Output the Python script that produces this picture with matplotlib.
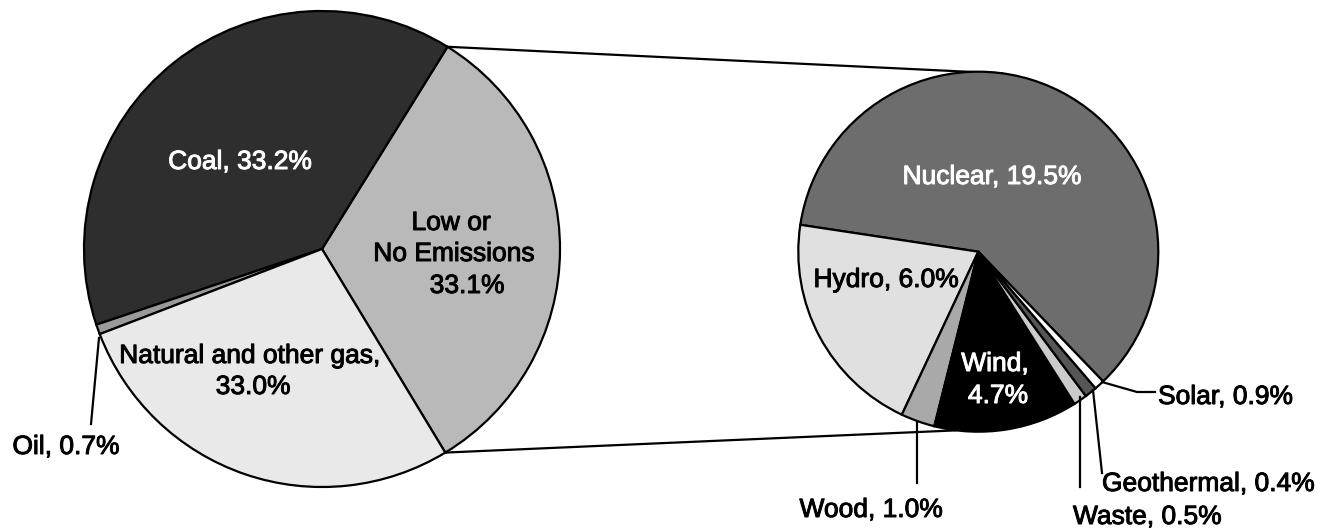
import numpy as np
import matplotlib
matplotlib.use("Agg")
import matplotlib.pyplot as plt
import matplotlib.patheffects as pe

plt.rcParams['font.family'] = ['Liberation Sans', 'DejaVu Sans']

# ---------------- data ----------------
# Left pie (counter-clockwise order, starting at the lower-right edge)
left_names = ["Low or No Emissions", "Coal", "Oil", "Natural and other gas"]
left_label_pct = [33.1, 33.2, 0.7, 33.0]          # values printed on the chart
left_slice = [32.5, 39.0, 0.67, 27.85]            # slice sizes as drawn
left_colors = ["#b9b9b9", "#2e2e2e", "#9a9a9a", "#e9e9e9"]

# Right pie: breakdown of "Low or No Emissions"
right_names = ["Nuclear", "Hydro", "Wood", "Wind", "Waste", "Geothermal", "Solar"]
right_label_pct = [19.5, 6.0, 1.0, 4.7, 0.5, 0.4, 0.9]
right_slice = [60.4, 20.4, 3.05, 12.9, 1.22, 1.1, 0.9]
right_colors = ["#6d6d6d", "#e0e0e0", "#a9a9a9", "#000000", "#cbcbcb", "#565656", "#ffffff"]

W, H = 1321, 532
def Y(y):
    return H - y

fig = plt.figure(figsize=(W / 100, H / 100), dpi=100)
ax = fig.add_axes([0, 0, 1, 1])

L_c = (322, Y(249)); L_r = 238
R_c = (978.3, Y(251.7)); R_r = 180
L_start = -58.8
R_start = -46.1

wp = dict(edgecolor="black", linewidth=1.6)
ax.pie(left_slice, colors=left_colors, startangle=L_start, counterclock=True,
       center=L_c, radius=L_r, wedgeprops=wp, frame=True)
ax.pie(right_slice, colors=right_colors, startangle=R_start, counterclock=True,
       center=R_c, radius=R_r, wedgeprops=wp, frame=True)

ax.set_xlim(0, W)
ax.set_ylim(0, H)
ax.set_aspect("equal")
ax.axis("off")

# connector lines from the "Low or No Emissions" slice to the second pie
a_top = np.deg2rad(L_start + 360 * left_slice[0] / sum(left_slice))
a_bot = np.deg2rad(L_start)
rt, rb = np.deg2rad(82), np.deg2rad(-97)
ax.plot([L_c[0] + L_r * np.cos(a_top), R_c[0] + R_r * np.cos(rt)],
        [L_c[1] + L_r * np.sin(a_top), R_c[1] + R_r * np.sin(rt)],
        color="black", lw=1.6, solid_capstyle="butt", zorder=0.5)
ax.plot([L_c[0] + L_r * np.cos(a_bot), R_c[0] + R_r * np.cos(rb)],
        [L_c[1] + L_r * np.sin(a_bot), R_c[1] + R_r * np.sin(rb)],
        color="black", lw=1.6, solid_capstyle="butt", zorder=0.5)

fs = 19
def txt(x, y, s, color="black", ha="center"):
    ax.text(x, Y(y), s, fontsize=fs, color=color, ha=ha, va="baseline",
            path_effects=[pe.Stroke(linewidth=0.7, foreground=color), pe.Normal()])

def lbl(names, pcts, i):
    return f"{names[i]}, {pcts[i]:.1f}%"

# left pie labels
txt(240, 169, lbl(left_names, left_label_pct, 1), color="white")
txt(451, 230, "Low or")
txt(454, 261, "No Emissions")
txt(467, 293, f"{left_label_pct[0]:.1f}%")
txt(250, 363, left_names[3] + ",")
txt(253, 394, f"{left_label_pct[3]:.1f}%")
txt(66, 454, lbl(left_names, left_label_pct, 2))
ax.plot([99, 91], [Y(338), Y(424)], color="black", lw=1.6)

# right pie labels
txt(992, 184, lbl(right_names, right_label_pct, 0), color="white")
txt(886, 287, lbl(right_names, right_label_pct, 1))
txt(995, 371, right_names[3] + ",", color="white")
txt(998, 403, f"{right_label_pct[3]:.1f}%", color="white")
txt(871, 517, lbl(right_names, right_label_pct, 2))
ax.plot([917, 917], [Y(422), Y(483)], color="black", lw=1.6)
txt(1073, 524, lbl(right_names, right_label_pct, 4), ha="left")
ax.plot([1080, 1080], [Y(397), Y(487)], color="black", lw=1.6)
txt(1102, 491, lbl(right_names, right_label_pct, 5), ha="left")
ax.plot([1093, 1102], [Y(390), Y(473)], color="black", lw=1.6)
txt(1158, 404, lbl(right_names, right_label_pct, 6), ha="left")
ax.plot([1102, 1137, 1155], [Y(382), Y(392), Y(392)], color="black", lw=1.6)

fig.savefig("out.png", dpi=100)
